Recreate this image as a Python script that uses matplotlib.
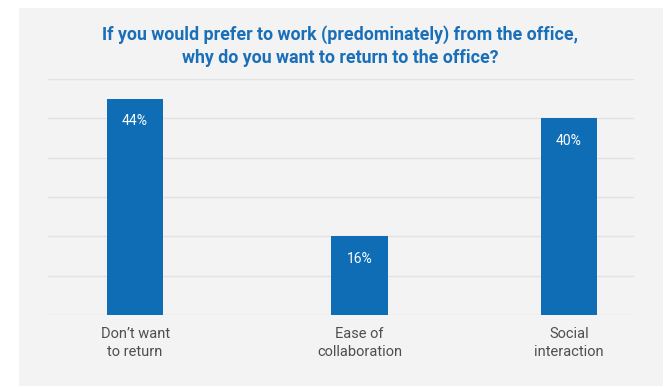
import matplotlib
matplotlib.use("Agg")
import matplotlib.pyplot as plt
from matplotlib.patches import Rectangle
import numpy as np

categories = ["Don\u2019t want\nto return", "Ease of\ncollaboration", "Social\ninteraction"]
shares = [44, 16, 40]
value_labels = ["44%", "16%", "40%"]
title = ("If you would prefer to work (predominately) from the office,\n"
         "why do you want to return to the office?")

BLUE = "#0f6db6"
TITLE_BLUE = "#1a6fb9"
PANEL = "#f3f3f3"
GRID = "#e2e2e2"

fig = plt.figure(figsize=(6.65, 3.87), dpi=100)
fig.patch.set_facecolor("white")

# light grey card behind the chart
card = Rectangle((19 / 665, 1 / 387), (663 - 19) / 665, (386 - 8) / 387,
                 transform=fig.transFigure, facecolor=PANEL,
                 edgecolor="none", zorder=-10)
fig.add_artist(card)

ax = fig.add_axes([48 / 665, 72 / 387, (634 - 48) / 665, (315 - 79) / 387])
ax.set_facecolor("none")
ax.set_zorder(1)

x = np.array([0, 1, 1.933])
ax.bar(x, shares, width=0.25, color=BLUE, zorder=3)

for xi, v, lab in zip(x, shares, value_labels):
    ax.text(xi, v - 4.6, lab, ha="center", va="center", color="white",
            fontsize=10, fontfamily="Roboto", zorder=4)

for xi, cat in zip(x, categories):
    ax.text(xi, -2.4, cat, ha="center", va="top", color="#4d4f53",
            fontsize=10.5, fontfamily="Roboto", linespacing=1.35)

ax.set_xlim(-0.388, 2.223)
ax.set_ylim(0, 48)
ax.set_yticks(np.arange(0, 49, 8))
ax.set_xticks([])
ax.tick_params(left=False, labelleft=False)
ax.grid(axis="y", color=GRID, linewidth=1, zorder=1)
for s in ax.spines.values():
    s.set_visible(False)

fig.text(340 / 665, 1 - 46 / 387, title, ha="center", va="center",
         color=TITLE_BLUE, fontsize=12.8, fontweight="bold",
         fontfamily="Roboto", linespacing=1.4)

fig.savefig("out.png", dpi=100)
